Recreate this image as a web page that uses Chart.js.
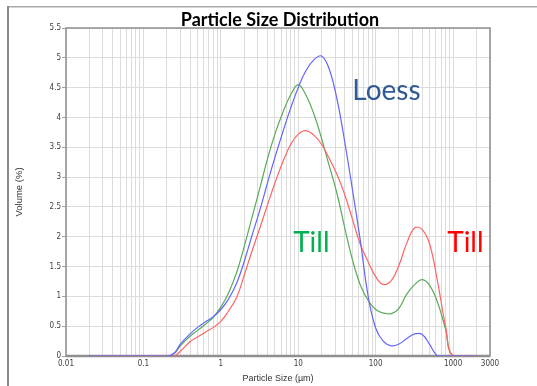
<!DOCTYPE html>
<html><head><meta charset="utf-8">
<script src="https://cdn.jsdelivr.net/npm/chart.js@4.4.0/dist/chart.umd.min.js"></script>
<style>html,body{margin:0;padding:0;background:#fff;}canvas{display:block;}</style>
</head><body>
<canvas id="c" width="537" height="386"></canvas>
<script>
// Particle sizes (µm)
const sizes = [0.02, 0.2, 0.25, 0.3, 0.4, 0.5, 0.63, 0.8, 1, 1.25, 1.6, 2, 2.5, 3.2, 4, 5, 6.3, 8, 10, 12.5, 16, 20, 25, 32, 40, 50, 63, 80, 100, 125, 160, 200, 250, 320, 400, 500, 630, 800, 1000, 2000];
// Volume (%) per series
const loess = [0, 0, 0.05, 0.2, 0.37, 0.48, 0.57, 0.66, 0.78, 0.95, 1.22, 1.58, 2.0, 2.45, 2.9, 3.33, 3.75, 4.16, 4.5, 4.78, 4.97, 5.03, 4.82, 4.28, 3.58, 2.8, 1.96, 1.0, 0.47, 0.25, 0.17, 0.2, 0.29, 0.37, 0.36, 0.19, 0, 0, 0, 0];
const tillGreen = [0, 0, 0.04, 0.17, 0.33, 0.43, 0.53, 0.65, 0.82, 1.05, 1.4, 1.83, 2.3, 2.82, 3.3, 3.72, 4.08, 4.38, 4.55, 4.38, 4.05, 3.65, 3.2, 2.7, 2.14, 1.62, 1.2, 0.93, 0.78, 0.72, 0.71, 0.8, 1.03, 1.2, 1.28, 1.18, 0.9, 0.45, 0, 0];
const tillRed = [0, 0, 0, 0.08, 0.24, 0.32, 0.4, 0.48, 0.58, 0.75, 0.98, 1.35, 1.74, 2.15, 2.53, 2.9, 3.25, 3.55, 3.72, 3.78, 3.7, 3.55, 3.32, 3.03, 2.7, 2.3, 1.88, 1.58, 1.33, 1.2, 1.27, 1.52, 1.88, 2.15, 2.12, 1.87, 1.25, 0.5, 0, 0];
// Axis ticks
const xLabelValues = [0.01, 0.1, 1, 10, 100, 1000, 3000];
const xLabels = ['0.01', '0.1', '1', '10', '100', '1000', '3000'];
const yTickValues = [0, 0.5, 1, 1.5, 2, 2.5, 3, 3.5, 4, 4.5, 5, 5.5];
// Text annotations placed at data coordinates
const notes = [
  {text: 'Loess', x: 50, y: 4.3, color: '#2f5a94'},
  {text: 'Till', x: 8.6, y: 1.745, color: '#00b050'},
  {text: 'Till', x: 840, y: 1.745, color: '#ff0000'}
];

function pts(vals) { return sizes.map((s, i) => ({x: s, y: vals[i]})); }

function gridValues() {
  const out = [];
  for (let e = -2; e <= 2; e++) {
    for (let m = 1; m <= 9; m++) out.push(Number((m * Math.pow(10, e)).toPrecision(6)));
  }
  out.push(1000, 2000, 3000);
  return out;
}

const framePlugin = {
  id: 'frame',
  beforeDraw(chart) {
    const ctx = chart.ctx;
    ctx.save();
    ctx.fillStyle = '#ffffff';
    ctx.fillRect(0, 0, chart.width, chart.height);
    ctx.fillStyle = '#a9a9a9';
    ctx.fillRect(7, 6, chart.width - 7, 1.5);
    ctx.fillStyle = '#8a8a8a';
    ctx.fillRect(7, 6, 2, chart.height - 6);
    ctx.restore();
  },
  beforeDatasetsDraw(chart) {
    const ctx = chart.ctx, a = chart.chartArea;
    ctx.save();
    ctx.strokeStyle = '#8f8f8f';
    ctx.lineWidth = 1.5;
    ctx.strokeRect(a.left, a.top, a.right - a.left, a.bottom - a.top);
    ctx.lineWidth = 2.5;
    ctx.beginPath();
    ctx.moveTo(a.left, a.bottom);
    ctx.lineTo(a.right, a.bottom);
    ctx.stroke();
    ctx.restore();
  },
  afterDraw(chart) {
    const ctx = chart.ctx, a = chart.chartArea;
    const xs = chart.scales.x, ys = chart.scales.y;
    ctx.save();
    ctx.textAlign = 'center';
    ctx.textBaseline = 'alphabetic';
    ctx.fillStyle = '#000000';
    ctx.font = 'bold 18px Lato';
    ctx.fillText('Particle Size Distribution', (a.left + a.right) / 2 + 2, 25.5);
    ctx.textAlign = 'left';
    ctx.font = '28px Lato';
    notes.forEach(n => {
      ctx.fillStyle = n.color;
      ctx.fillText(n.text, xs.getPixelForValue(n.x), ys.getPixelForValue(n.y));
    });
    ctx.restore();
  }
};

const tickFont = {family: 'DejaVu Sans Condensed', size: 8};
const lineStyle = {borderWidth: 1.2, pointRadius: 0, tension: 0.4, fill: false};

new Chart(document.getElementById('c'), {
  type: 'line',
  data: {
    datasets: [
      Object.assign({label: 'Loess', data: pts(loess), borderColor: '#6464ff'}, lineStyle),
      Object.assign({label: 'Till (red)', data: pts(tillRed), borderColor: '#ff6464'}, lineStyle),
      Object.assign({label: 'Till (green)', data: pts(tillGreen), borderColor: '#5aaa5a'}, lineStyle)
    ]
  },
  options: {
    responsive: false,
    devicePixelRatio: 1,
    animation: false,
    events: [],
    layout: {padding: {top: 28, right: 47, left: 0, bottom: 0}},
    plugins: {legend: {display: false}, title: {display: false}, tooltip: {enabled: false}},
    scales: {
      x: {
        type: 'logarithmic',
        min: 0.01,
        max: 3000,
        afterBuildTicks(scale) { scale.ticks = gridValues().map(v => ({value: v})); },
        afterFit(scale) { scale.height = 30; },
        grid: {color: '#dcdcdc', lineWidth: 1, drawTicks: false},
        border: {display: false},
        ticks: {
          autoSkip: false, maxRotation: 0, minRotation: 0, padding: 3,
          color: '#404040', font: tickFont,
          callback(v) {
            const i = xLabelValues.findIndex(l => Math.abs(v - l) / l < 1e-6);
            return i >= 0 ? xLabels[i] : '';
          }
        },
        title: {display: true, text: 'Particle Size (µm)', color: '#333333', font: {family: 'Liberation Sans', size: 9}, padding: {top: 0, bottom: 2}}
      },
      y: {
        min: 0,
        max: 5.5,
        afterBuildTicks(scale) { scale.ticks = yTickValues.map(v => ({value: v})); },
        afterFit(scale) { scale.width = 66; },
        grid: {color: '#dcdcdc', lineWidth: 1, drawTicks: true, tickLength: 4, tickColor: '#a0a0a0'},
        border: {display: false},
        ticks: {padding: 1, color: '#404040', font: tickFont, callback(v) { return String(v); }},
        title: {display: true, text: 'Volume (%)', color: '#333333', font: {family: 'Liberation Sans', size: 9.5}, padding: {top: 14, bottom: 0}}
      }
    }
  },
  plugins: [framePlugin]
});
</script>
</body></html>
